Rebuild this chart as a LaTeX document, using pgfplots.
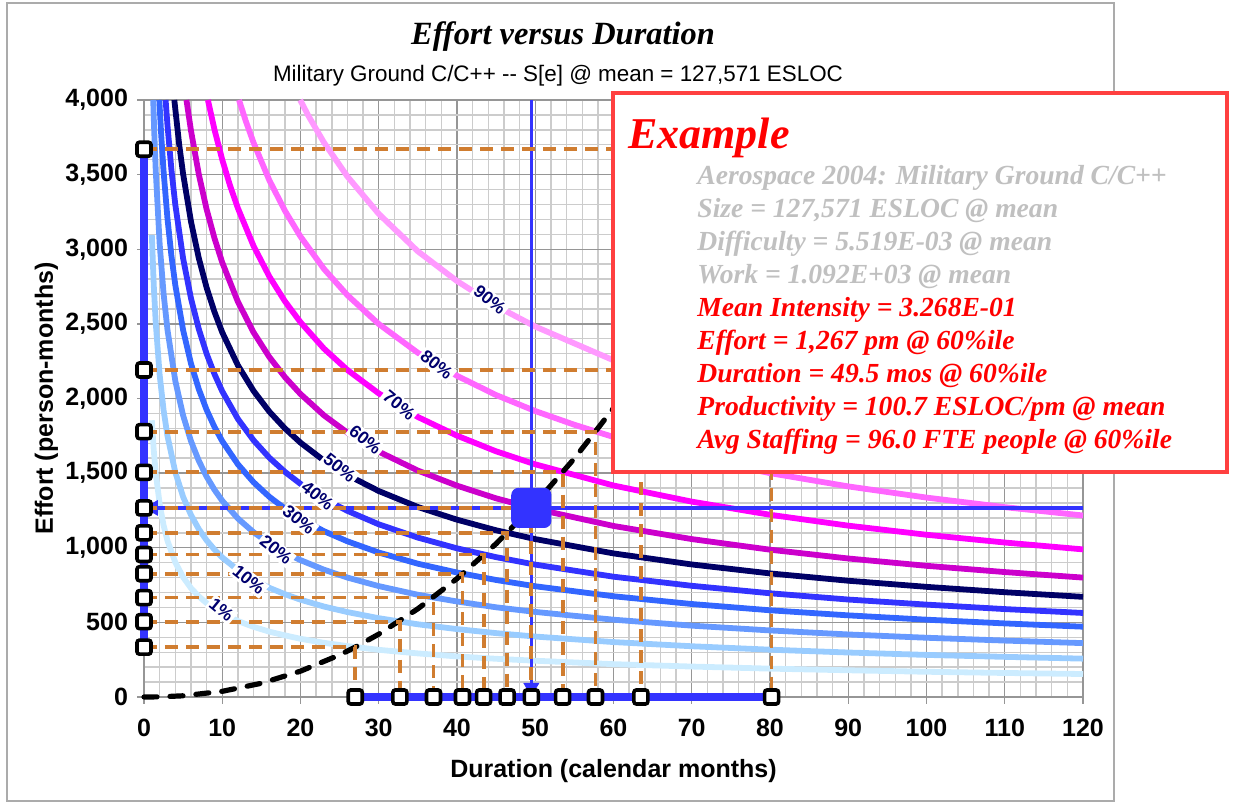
\documentclass[border=0pt]{standalone}
\usepackage{fontspec}
\setmainfont{Liberation Serif}
\setsansfont{Liberation Sans}
\usepackage{pgfplots}
\pgfplotsset{compat=1.18}
\usetikzlibrary{arrows.meta}

\definecolor{c01}{RGB}{204,236,255}
\definecolor{c10}{RGB}{153,204,255}
\definecolor{c20}{RGB}{102,153,255}
\definecolor{c30}{RGB}{51,102,255}
\definecolor{c40}{RGB}{51,51,255}
\definecolor{c50}{RGB}{0,0,102}
\definecolor{c60}{RGB}{204,0,204}
\definecolor{c70}{RGB}{255,0,255}
\definecolor{c80}{RGB}{255,102,255}
\definecolor{c90}{RGB}{255,153,255}
\definecolor{pblue}{RGB}{51,51,255}
\definecolor{dashor}{RGB}{208,125,48}
\definecolor{boxred}{RGB}{255,64,64}
\definecolor{gridmin}{RGB}{204,204,204}
\definecolor{gridmaj}{RGB}{150,150,150}
\definecolor{lblnavy}{RGB}{0,0,110}
\definecolor{txtgray}{RGB}{192,192,192}

% square mark with rounded corners (arcs drawn explicitly)
\pgfdeclareplotmark{rsq}{%
  \pgfpathmoveto{\pgfqpoint{-0.65\pgfplotmarksize}{-\pgfplotmarksize}}%
  \pgfpathlineto{\pgfqpoint{0.65\pgfplotmarksize}{-\pgfplotmarksize}}%
  \pgfpatharc{270}{360}{0.35\pgfplotmarksize}%
  \pgfpathlineto{\pgfqpoint{\pgfplotmarksize}{0.65\pgfplotmarksize}}%
  \pgfpatharc{0}{90}{0.35\pgfplotmarksize}%
  \pgfpathlineto{\pgfqpoint{-0.65\pgfplotmarksize}{\pgfplotmarksize}}%
  \pgfpatharc{90}{180}{0.35\pgfplotmarksize}%
  \pgfpathlineto{\pgfqpoint{-\pgfplotmarksize}{-0.65\pgfplotmarksize}}%
  \pgfpatharc{180}{270}{0.35\pgfplotmarksize}%
  \pgfpathclose
  \pgfusepathqfillstroke}

\begin{document}
\begin{tikzpicture}
\path[use as bounding box] (0,0) rectangle (616.5pt,401.5pt);
\draw[gridmaj!80, line width=0.75pt] (3.5pt,1pt) rectangle (557pt,400pt);

\begin{axis}[
  at={(72pt,53pt)}, anchor=south west,
  scale only axis, width=469.5pt, height=298.5pt,
  xmin=0, xmax=120, ymin=0, ymax=4000, clip=false,
  xtick={0,10,...,120}, ytick={0,500,...,4000},
  minor x tick num=4, minor y tick num=4,
  grid=both,
  major grid style={gridmaj, line width=0.7pt},
  minor grid style={gridmin, line width=0.7pt},
  axis line style={gridmaj, line width=0.7pt},
  tick style={gridmaj, line width=0.7pt},
  tick align=outside, major tick length=3.5pt, minor tick length=0pt,
  xtick pos=left, ytick pos=left,
  ticklabel style={font=\sffamily\bfseries\fontsize{12.5}{14}\selectfont},
  xticklabel style={yshift=-4pt},
  yticklabel style={xshift=-1pt},
  /pgf/number format/1000 sep={,},
  /pgf/number format/assume math mode=true,
  xlabel={Duration (calendar months)},
  ylabel={Effort (person-months)},
  label style={font=\sffamily\bfseries\fontsize{12.5}{14}\selectfont},
  xlabel style={at={(axis description cs:0.5,-0.124)}, anchor=center},
  ylabel style={at={(axis description cs:-0.104,0.5)}, anchor=center},
]
% percentile curves
\addplot[c01, line width=2.9pt] coordinates {(1,1854)(1.25,1651)(1.5,1502)(2,1293)(2.5,1151)(3,1047)(4,902)(5,803)(6,730)(7,674)(8,629)(9,591)(10,560)(12,509)(14,470)(16,438)(18,413)(20,390)(23,363)(26,341)(30,316)(35,292)(40,272)(45,256)(50,243)(60,220)(70,204)(80,190)(90,179)(100,169)(110,161)(120,154)};
\addplot[c10, line width=2.9pt] coordinates {(1,3096)(1.25,2757)(1.5,2507)(2,2159)(2.5,1923)(3,1749)(4,1506)(5,1341)(6,1220)(7,1125)(8,1050)(9,988)(10,935)(12,850)(14,785)(16,732)(18,689)(20,652)(23,606)(26,569)(30,528)(35,487)(40,455)(45,428)(50,405)(60,368)(70,340)(80,317)(90,298)(100,282)(110,269)(120,257)};
\addplot[c20, line width=2.9pt] coordinates {(1.178,4000)(1.3,3800)(1.5,3527)(2,3037)(2.5,2704)(3,2460)(4,2118)(5,1886)(6,1715)(7,1583)(8,1477)(9,1389)(10,1315)(12,1196)(14,1104)(16,1030)(18,969)(20,917)(23,853)(26,800)(30,743)(35,685)(40,640)(45,601)(50,570)(60,518)(70,478)(80,446)(90,419)(100,397)(110,378)(120,361)};
\addplot[c30, line width=2.9pt] coordinates {(1.959,4000)(2.2,3766)(2.5,3524)(3,3205)(3.5,2958)(4,2760)(5,2458)(6,2235)(7,2063)(8,1924)(9,1810)(10,1714)(12,1559)(14,1439)(16,1342)(18,1263)(20,1195)(23,1111)(26,1043)(30,968)(35,893)(40,834)(45,784)(50,742)(60,675)(70,623)(80,581)(90,547)(100,518)(110,493)(120,471)};
\addplot[c40, line width=2.9pt] coordinates {(2.761,4000)(3,3831)(3.5,3536)(4,3299)(5,2938)(6,2672)(7,2466)(8,2300)(9,2164)(10,2048)(12,1863)(14,1720)(16,1604)(18,1509)(20,1428)(23,1328)(26,1247)(30,1157)(35,1068)(40,996)(45,937)(50,887)(60,806)(70,745)(80,695)(90,653)(100,619)(110,589)(120,563)};
\addplot[c50, line width=2.9pt] coordinates {(3.875,4000)(4.5,3700)(5,3504)(6,3187)(7,2941)(8,2743)(9,2581)(10,2443)(12,2222)(14,2051)(16,1913)(18,1800)(20,1704)(23,1584)(26,1487)(30,1380)(35,1273)(40,1188)(45,1117)(50,1058)(60,962)(70,888)(80,828)(90,779)(100,738)(110,702)(120,671)};
\addplot[c60, line width=2.9pt] coordinates {(5.425,4000)(6,3796)(7,3503)(8,3268)(9,3075)(10,2911)(12,2648)(14,2443)(16,2279)(18,2144)(20,2030)(23,1887)(26,1771)(30,1644)(35,1517)(40,1416)(45,1331)(50,1261)(60,1146)(70,1058)(80,987)(90,928)(100,879)(110,837)(120,800)};
\addplot[c70, line width=2.9pt] coordinates {(8.166,4000)(9,3803)(10,3600)(11,3426)(12,3275)(14,3022)(16,2819)(18,2652)(20,2511)(23,2334)(26,2191)(30,2034)(35,1876)(40,1751)(45,1646)(50,1559)(60,1417)(70,1309)(80,1221)(90,1148)(100,1087)(110,1035)(120,989)};
\addplot[c80, line width=2.9pt] coordinates {(12.14,4000)(13,3860)(14,3714)(16,3464)(18,3259)(20,3085)(23,2868)(26,2692)(30,2499)(35,2306)(40,2152)(45,2023)(50,1916)(55,1824)(60,1742)(70,1608)(80,1500)(90,1411)(100,1336)(110,1272)(120,1216)};
\addplot[c90, line width=2.9pt] coordinates {(19.96,4000)(21,3895)(23,3715)(26,3487)(30,3237)(35,2986)(40,2787)(45,2620)(50,2482)(60,2256)(70,2083)(80,1943)(90,1827)(100,1730)(110,1647)(120,1575)};

% 60% effort and duration guides
\addplot[pblue, line width=1.8pt, -{Triangle[length=7pt,width=7.5pt]}] coordinates {(120,1267)(0,1267)};
\addplot[pblue, line width=1.8pt, -{Triangle[length=7pt,width=7.5pt]}] coordinates {(49.5,4000)(49.5,0)};
\addplot[only marks, mark=rsq, mark size=9.8pt, mark options={draw=pblue, fill=pblue, line width=0.5pt}] coordinates {(49.5,1267)};

% effort vs duration at each percentile
\addplot[black, line width=2.6pt, line cap=round, dash pattern=on 6.5pt off 6.5pt] coordinates {(0,0)(2,1)(5,8)(10,38)(15,92)(20,173)(25,282)(27,334)(30,421)(35,591)(40,793)(45,1027)(49.5,1267)(55,1598)(60,1935)(65,2307)(70,2716)(75,3161)(80.2,3665)};

\pgfplotsset{orx/.style={dashor, line width=1.9pt, dash pattern=on 6.5pt off 4pt}}
\addplot[orx] coordinates {(0,334)(27,334)(27,0)};
\addplot[orx] coordinates {(0,505)(32.7,505)(32.7,0)};
\addplot[orx] coordinates {(0,666)(37,666)(37,0)};
\addplot[orx] coordinates {(0,826)(40.7,826)(40.7,0)};
\addplot[orx] coordinates {(0,955)(43.4,955)(43.4,0)};
\addplot[orx] coordinates {(0,1100)(46.4,1100)(46.4,0)};
\addplot[orx] coordinates {(0,1267)(49.5,1267)(49.5,0)};
\addplot[orx] coordinates {(0,1505)(53.5,1505)(53.5,0)};
\addplot[orx] coordinates {(0,1778)(57.7,1778)(57.7,0)};
\addplot[orx] coordinates {(0,2191)(63.5,2191)(63.5,0)};
\addplot[orx] coordinates {(0,3670)(80.2,3670)(80.2,0)};

% projections onto the axes
\addplot[pblue, line width=4.4pt, mark=rsq, mark size=3.5pt, mark options={draw=black, fill=white, line width=1.8pt}] coordinates {(0,334)(0,505)(0,666)(0,826)(0,955)(0,1100)(0,1267)(0,1505)(0,1778)(0,2191)(0,3670)};
\addplot[pblue, line width=4.4pt, mark=rsq, mark size=3.5pt, mark options={draw=black, fill=white, line width=1.8pt}] coordinates {(27,0)(32.7,0)(37,0)(40.7,0)(43.4,0)(46.4,0)(49.5,0)(53.5,0)(57.7,0)(63.5,0)(80.2,0)};

% curve labels
\tikzset{plab/.style={font=\sffamily\bfseries\fontsize{8.8}{9}\selectfont, text=lblnavy, fill=white, inner sep=1pt, rotate=-39}}
\node[plab] at (axis cs:44.2,2660) {90\%};
\node[plab] at (axis cs:37.4,2225) {80\%};
\node[plab] at (axis cs:32.6,1956) {70\%};
\node[plab] at (axis cs:28.3,1722) {60\%};
\node[plab] at (axis cs:25,1534) {50\%};
\node[plab] at (axis cs:22.2,1347) {40\%};
\node[plab] at (axis cs:19.8,1186) {30\%};
\node[plab] at (axis cs:16.9,985) {20\%};
\node[plab] at (axis cs:13.4,784) {10\%};
\node[plab] at (axis cs:9.9,583) {1\%};
\end{axis}

% titles
\node[font=\bfseries\itshape\fontsize{16.2}{19}\selectfont, anchor=base] at (281.5pt,379pt) {Effort versus Duration};
\node[font=\sffamily\fontsize{11.2}{13}\selectfont, anchor=base] at (279pt,360.5pt) {Military Ground C/C++ -{}- S[e] @ mean = 127,571 ESLOC};

% example box
\draw[boxred, line width=2pt, fill=white] (306.5pt,165.5pt) rectangle (613.5pt,355pt);
\node[font=\bfseries\itshape\fontsize{22}{26}\selectfont, text=red, anchor=base west, inner sep=0pt] at (314pt,327pt) {Example};
\begin{scope}[every node/.style={font=\bfseries\itshape\fontsize{13.8}{16}\selectfont, anchor=base west, inner sep=0pt}]
\node[text=txtgray] at (348.5pt,309pt) {Aerospace 2004: Military Ground C/C++};
\node[text=txtgray] at (348.5pt,292.5pt) {Size = 127,571 ESLOC @ mean};
\node[text=txtgray] at (348.5pt,276pt) {Difficulty = 5.519E-03 @ mean};
\node[text=txtgray] at (348.5pt,259.5pt) {Work = 1.092E+03 @ mean};
\node[text=red] at (348.5pt,243pt) {Mean Intensity = 3.268E-01};
\node[text=red] at (348.5pt,226.5pt) {Effort = 1,267 pm @ 60\%ile};
\node[text=red] at (348.5pt,210pt) {Duration = 49.5 mos @ 60\%ile};
\node[text=red] at (348.5pt,193.5pt) {Productivity = 100.7 ESLOC/pm @ mean};
\node[text=red] at (348.5pt,177pt) {Avg Staffing = 96.0 FTE people @ 60\%ile};
\end{scope}
\end{tikzpicture}
\end{document}
